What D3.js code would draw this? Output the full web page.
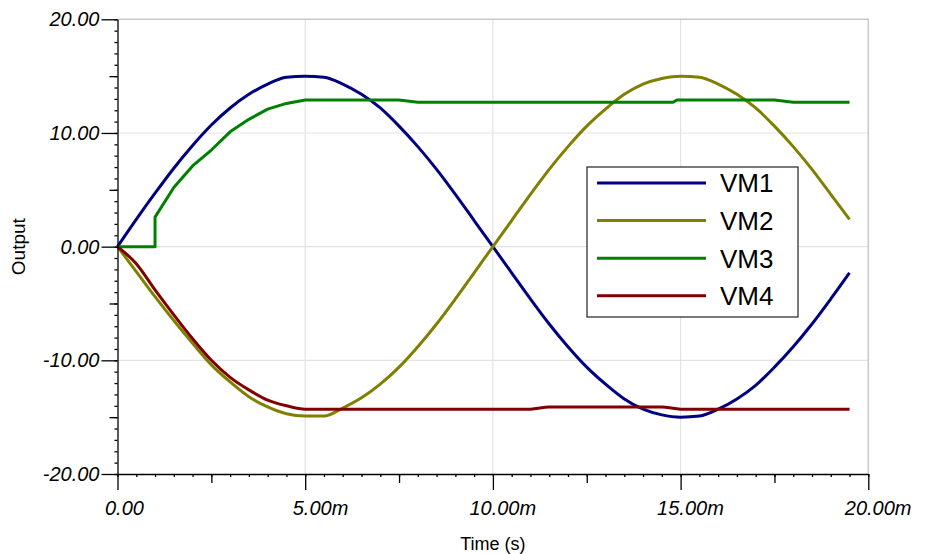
<!DOCTYPE html>
<html lang="en">
<head>
    <meta charset="UTF-8">
    <title>Output</title>
    <script src="https://d3js.org/d3.v7.min.js"></script>
    <style>
        body { margin: 0; background: #fff; }
        text { font-family: "Liberation Sans", Arial, sans-serif; fill: #000; }
        .tick text { font-style: italic; font-size: 20px; }
        .axis path, .axis line { stroke: #000; stroke-width: 1.3; }
    </style>
</head>
<body>
<script>
    const width  = 932;
    const height = 554;

    // time in ms
    const timeMs = [0, 0.5, 1, 1.5, 2, 2.5, 3, 3.5, 4, 4.5, 5, 5.5, 6, 6.5, 7, 7.5, 8, 8.5, 9, 9.5,
                    10, 10.5, 11, 11.5, 12, 12.5, 13, 13.5, 14, 14.5, 15, 15.5, 16, 16.5, 17, 17.5, 18, 18.5, 19, 19.5];

    const vm1 = [0, 2.4, 4.7, 6.9, 8.9, 10.7, 12.2, 13.4, 14.3, 14.9, 15.0, 14.9, 14.3, 13.4, 12.2, 10.6, 8.8, 6.8, 4.6, 2.3,
                 0, -2.3, -4.6, -6.8, -8.8, -10.6, -12.1, -13.4, -14.3, -14.8, -15.0, -14.9, -14.3, -13.4, -12.2, -10.6, -8.8, -6.8, -4.6, -2.3];

    const vm2 = [0, -2.2, -4.4, -6.5, -8.5, -10.4, -11.9, -13.2, -14.1, -14.7, -14.9, -14.9, -14.2, -13.3, -12.1, -10.6, -8.8, -6.8, -4.6, -2.3,
                 0, 2.3, 4.6, 6.8, 8.8, 10.6, 12.1, 13.4, 14.3, 14.8, 15.0, 14.9, 14.3, 13.4, 12.2, 10.6, 8.8, 6.8, 4.6, 2.4];

    const vm4 = [0, -1.5, -3.8, -6.0, -8.1, -10.0, -11.5, -12.6, -13.5, -14.0,
                 -14.3, -14.3, -14.3, -14.3, -14.3, -14.3, -14.3, -14.3, -14.3, -14.3, -14.3, -14.3, -14.3,
                 -14.1, -14.1, -14.1, -14.1, -14.1, -14.1, -14.1,
                 -14.3, -14.3, -14.3, -14.3, -14.3, -14.3, -14.3, -14.3, -14.3, -14.3];

    // VM3 has a step at 1 ms, so it keeps its own time points
    const vm3Time = [0, 1, 1, 1.5, 2, 2.5, 3, 3.5, 4, 4.5, 5, 7.5, 8, 14.8, 14.9, 17.5, 18, 19.5];
    const vm3     = [0, 0, 2.6, 5.2, 7.1, 8.5, 10.1, 11.2, 12.1, 12.6, 12.9, 12.9, 12.7, 12.7, 12.9, 12.9, 12.7, 12.7];

    const seriesNames  = ["VM1", "VM2", "VM3", "VM4"];
    const seriesColors = ["#000080", "#808000", "#008000", "#800000"];

    const xTicks = [0, 5, 10, 15, 20];
    const yTicks = [-20, -10, 0, 10, 20];

    const series = [
        {name: "VM1", pts: timeMs.map((t, i) => [t, vm1[i]]), smooth: true},
        {name: "VM2", pts: timeMs.map((t, i) => [t, vm2[i]]), smooth: true},
        {name: "VM3", pts: vm3Time.map((t, i) => [t, vm3[i]]), smooth: false},
        {name: "VM4", pts: timeMs.map((t, i) => [t, vm4[i]]), smooth: true}
    ];

    const x = d3.scaleLinear().domain([0, 20]).range([117.5, 868.3]);
    const y = d3.scaleLinear().domain([-20, 20]).range([474, 19.3]);
    const color = d3.scaleOrdinal().domain(seriesNames).range(seriesColors);

    const svg = d3.select("body").append("svg").attr("width", width).attr("height", height);

    // grid
    svg.append("g").selectAll("line").data(xTicks.slice(1, -1)).enter().append("line")
        .attr("x1", d => x(d)).attr("x2", d => x(d)).attr("y1", y(20)).attr("y2", y(-20))
        .attr("stroke", "#e3e3e3").attr("stroke-width", 1.2);
    svg.append("g").selectAll("line").data(yTicks.slice(1, -1)).enter().append("line")
        .attr("x1", x(0)).attr("x2", x(20)).attr("y1", d => y(d)).attr("y2", d => y(d))
        .attr("stroke", "#e3e3e3").attr("stroke-width", 1.2);

    // frame top / right
    svg.append("path")
        .attr("d", `M${x(0)},${y(20)}H${x(20)}V${y(-20)}`)
        .attr("fill", "none").attr("stroke", "#c8c8c8").attr("stroke-width", 1.5);

    // lines
    const smoothLine = d3.line().x(d => x(d[0])).y(d => y(d[1])).curve(d3.curveMonotoneX);
    const plainLine  = d3.line().x(d => x(d[0])).y(d => y(d[1]));
    svg.append("g").selectAll("path").data(series).enter().append("path")
        .attr("d", d => d.smooth ? smoothLine(d.pts) : plainLine(d.pts))
        .attr("fill", "none")
        .attr("stroke", d => color(d.name))
        .attr("stroke-width", 3)
        .attr("stroke-linejoin", "round");

    // x axis: minor, medium, major
    const xMinor = [], yMinor = [];
    for (let v = 0; v <= 20; v += 0.5) xMinor.push(v);
    for (let v = -20; v <= 20; v += 1) yMinor.push(v);

    svg.append("g").attr("class", "axis").attr("transform", `translate(0,${y(-20)})`)
        .call(d3.axisBottom(x).tickValues(xMinor).tickSize(3).tickSizeOuter(0).tickFormat(""));
    svg.append("g").attr("class", "axis").attr("transform", `translate(0,${y(-20)})`)
        .call(d3.axisBottom(x).tickValues([2.5, 7.5, 12.5, 17.5]).tickSize(9).tickSizeOuter(0).tickFormat(""))
        .select(".domain").remove();
    const xMajor = svg.append("g").attr("class", "axis").attr("transform", `translate(0,${y(-20)})`)
        .call(d3.axisBottom(x).tickValues(xTicks).tickSize(16).tickSizeOuter(0)
            .tickFormat(v => v === 0 ? "0.00" : v.toFixed(2) + "m"));
    xMajor.select(".domain").remove();
    xMajor.selectAll(".tick text")
        .attr("text-anchor", "start")
        .attr("dx", d => -(String(Math.floor(d)).length * 11 + 2))
        .attr("y", 27).attr("dy", "0.71em");

    // y axis
    svg.append("g").attr("class", "axis").attr("transform", `translate(${x(0)},0)`)
        .call(d3.axisLeft(y).tickValues(yMinor).tickSize(3).tickSizeOuter(0).tickFormat(""));
    svg.append("g").attr("class", "axis").attr("transform", `translate(${x(0)},0)`)
        .call(d3.axisLeft(y).tickValues([-15, -5, 5, 15]).tickSize(8).tickSizeOuter(0).tickFormat(""))
        .select(".domain").remove();
    const yMajor = svg.append("g").attr("class", "axis").attr("transform", `translate(${x(0)},0)`)
        .call(d3.axisLeft(y).tickValues(yTicks).tickSize(16).tickSizeOuter(0).tickFormat(v => v.toFixed(2)));
    yMajor.select(".domain").remove();
    yMajor.selectAll(".tick text").attr("x", -18);

    // axis titles
    svg.append("text")
        .attr("x", (x(0) + x(20)) / 2).attr("y", 550)
        .attr("text-anchor", "middle").style("font-size", "18px")
        .text("Time (s)");
    svg.append("text")
        .attr("transform", `translate(25,${y(0)}) rotate(-90)`)
        .attr("text-anchor", "middle").style("font-size", "19px")
        .text("Output");

    // legend
    const legend = svg.append("g").attr("transform", "translate(587,167)");
    legend.append("rect").attr("width", 211).attr("height", 150)
        .attr("fill", "#fff").attr("stroke", "#222").attr("stroke-width", 1.2);
    const rows = legend.selectAll("g.row").data(seriesNames).enter().append("g")
        .attr("class", "row")
        .attr("transform", (d, i) => `translate(0,${16 + i * 37.6})`);
    rows.append("line").attr("x1", 10).attr("x2", 119)
        .attr("stroke", d => color(d)).attr("stroke-width", 3);
    rows.append("text").attr("x", 133).attr("dy", "0.36em")
        .style("font-size", "26px")
        .text(d => d);
</script>
</body>
</html>
